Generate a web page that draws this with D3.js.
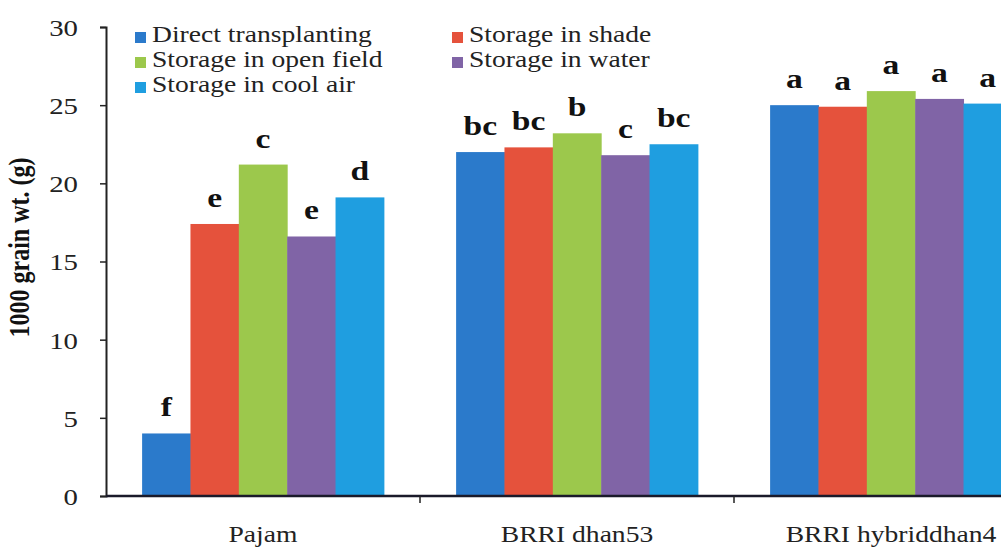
<!DOCTYPE html>
<html>
<head>
<meta charset="utf-8">
<script src="https://cdn.jsdelivr.net/npm/d3@7"></script>
<style>
  body { margin: 0; background: #fff; }
  svg { display: block; }
  svg text { font-family: "Liberation Serif", "Times New Roman", Times, serif; }
</style>
</head>
<body>
<svg></svg>
<script>
// data
const varieties = ['Pajam', 'BRRI dhan53', 'BRRI hybriddhan4'];
const methods = ['Direct transplanting', 'Storage in shade', 'Storage in open field', 'Storage in water', 'Storage in cool air'];
const colors = ['#2b7acb', '#e5523c', '#9cc84c', '#8064a6', '#1f9ee0'];
const pajam = [4.0, 17.4, 21.2, 16.6, 19.1];
const dhan53 = [22.0, 22.3, 23.2, 21.8, 22.5];
const hybrid = [25.0, 24.9, 25.9, 25.4, 25.1];
const letters = [
  ['f', 'e', 'c', 'e', 'd'],
  ['bc', 'bc', 'b', 'c', 'bc'],
  ['a', 'a', 'a', 'a', 'a']
];
const yTicks = [0, 5, 10, 15, 20, 25, 30];

const values = [pajam, dhan53, hybrid];
const rows = [];
varieties.forEach((v, i) => methods.forEach((m, j) => {
  rows.push({variety: v, method: m, value: values[i][j], letter: letters[i][j], color: colors[j]});
}));

const W = 1001, H = 548;
const FONT = '"Liberation Serif", "Times New Roman", serif';
const svg = d3.select('svg').attr('width', W).attr('height', H);

const mLeft = 106, mBottom = 496, mTop = 27;
const step = 314;
const sx = 1.2; // horizontal stretch of the original picture

const x = d3.scaleBand()
  .domain(varieties)
  .range([mLeft, mLeft + step * varieties.length])
  .paddingInner(0.23)
  .paddingOuter(0.115);

const xs = d3.scaleBand()
  .domain(methods)
  .range([0, x.bandwidth()]);

const y = d3.scaleLinear().domain([0, 30]).range([mBottom, mTop]);

// bars
svg.append('g').selectAll('rect')
  .data(rows)
  .join('rect')
  .attr('x', d => x(d.variety) + xs(d.method))
  .attr('y', d => y(d.value))
  .attr('width', xs.bandwidth() + 0.5)
  .attr('height', d => y(0) - y(d.value))
  .attr('fill', d => d.color);

// significance letters
svg.append('g').selectAll('text')
  .data(rows)
  .join('text')
  .attr('transform', d => `translate(${x(d.variety) + xs(d.method) + xs.bandwidth() / 2},${y(d.value) - 17}) scale(${sx},1)`)
  .attr('text-anchor', 'middle')
  .attr('font-family', FONT)
  .attr('font-weight', 'bold')
  .attr('font-size', 28)
  .attr('fill', '#111')
  .text(d => d.letter);

// y axis
const yAxis = svg.append('g')
  .attr('transform', `translate(${mLeft},0)`)
  .call(d3.axisLeft(y).tickValues(yTicks).tickSize(6).tickPadding(10))
  .attr('font-family', FONT);
yAxis.select('.domain').attr('stroke', '#222').attr('stroke-width', 2);
yAxis.selectAll('.tick line').attr('stroke', '#222').attr('stroke-width', 1.5);
yAxis.selectAll('.tick text').each(function () {
  const t = d3.select(this);
  const xx = +t.attr('x') - 12;
  t.attr('x', null)
    .attr('dy', '0.35em')
    .attr('transform', `translate(${xx},0) scale(${sx},1)`)
    .attr('font-family', FONT)
    .attr('font-size', 24)
    .attr('fill', '#222');
});

// x axis
const xAxis = svg.append('g')
  .attr('transform', `translate(0,${mBottom})`);
xAxis.append('line')
  .attr('x1', mLeft).attr('x2', W)
  .attr('stroke', '#1a1a2a').attr('stroke-width', 2.5);
xAxis.selectAll('.sep')
  .data(varieties.slice(1))
  .join('line')
  .attr('class', 'sep')
  .attr('x1', d => x(d) - x.step() * x.paddingInner() / 2)
  .attr('x2', d => x(d) - x.step() * x.paddingInner() / 2)
  .attr('y1', 0).attr('y2', 7)
  .attr('stroke', '#222').attr('stroke-width', 1.5);
xAxis.selectAll('.lab')
  .data(varieties)
  .join('text')
  .attr('class', 'lab')
  .attr('transform', d => `translate(${x(d) + x.bandwidth() / 2},46) scale(${sx},1)`)
  .attr('text-anchor', 'middle')
  .attr('font-family', FONT)
  .attr('font-size', 23)
  .attr('fill', '#222')
  .text(d => d);

// y title
svg.append('text')
  .attr('transform', `translate(29,${(mTop + mBottom) / 2 - 14}) scale(${sx},1) rotate(-90)`)
  .attr('text-anchor', 'middle')
  .attr('font-family', FONT)
  .attr('font-weight', 'bold')
  .attr('font-size', 24)
  .attr('fill', '#111')
  .text('1000 grain wt. (g)');

// legend
const legendPos = [[135, 0], [452, 0], [135, 1], [452, 1], [135, 2]];
const leg = svg.append('g').selectAll('g')
  .data(methods)
  .join('g')
  .attr('transform', (d, i) => `translate(${legendPos[i][0]},${42 + legendPos[i][1] * 25})`);
leg.append('rect')
  .attr('x', 0).attr('y', -10)
  .attr('width', 11).attr('height', 11)
  .attr('fill', (d, i) => colors[i]);
leg.append('text')
  .attr('transform', `translate(17,0) scale(${sx},1)`)
  .attr('font-family', FONT)
  .attr('font-size', 23)
  .attr('fill', '#222')
  .text(d => d);
</script>
</body>
</html>
